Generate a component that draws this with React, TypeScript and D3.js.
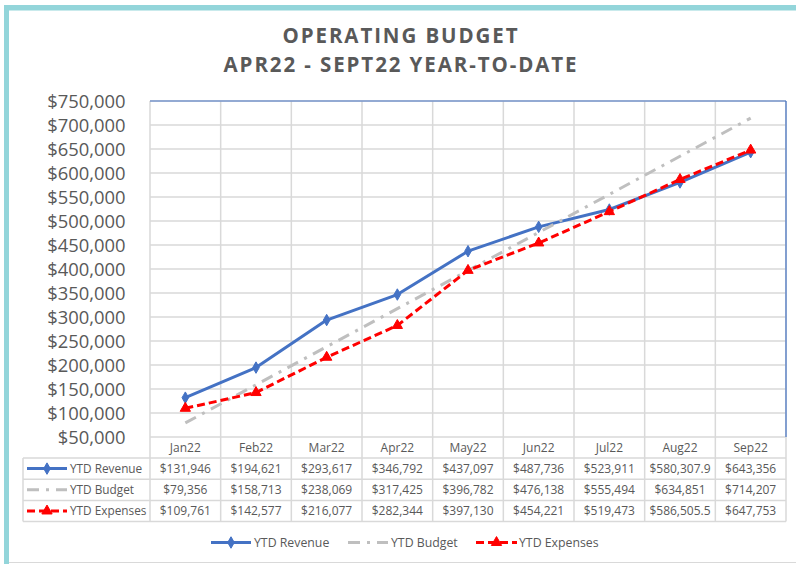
import React from "react";
import * as d3 from "d3";

const categories = ["Jan22", "Feb22", "Mar22", "Apr22", "May22", "Jun22", "Jul22", "Aug22", "Sep22"];
const revenue = [131946, 194621, 293617, 346792, 437097, 487736, 523911, 580307.9, 643356];
const budget = [79356, 158713, 238069, 317425, 396782, 476138, 555494, 634851, 714207];
const expenses = [109761, 142577, 216077, 282344, 397130, 454221, 519473, 586505.5, 647753];
const yTicks = d3.range(50000, 750001, 50000);
const titleLines = ["OPERATING BUDGET", "APR22 - SEPT22 YEAR-TO-DATE"];

const FONT = "'Open Sans', sans-serif";
const TXT = "#595959";
const GRID = "#D9D9D9";

type Series = { name: string; values: number[]; color: string; dash: string; marker: "diamond" | "triangle" | null };
const series: Series[] = [
  { name: "YTD Revenue", values: revenue, color: "#4472C4", dash: "", marker: "diamond" },
  { name: "YTD Budget", values: budget, color: "#BFBFBF", dash: "12,7,3,7", marker: null },
  { name: "YTD Expenses", values: expenses, color: "#FF0000", dash: "8,4", marker: "triangle" },
];

export default function App() {
  const W = 796, H = 564;
  const left = 150, right = 786, top = 101, bottom = 437;
  const x = d3.scaleBand<string>().domain(categories).range([left, right]);
  const y = d3.scaleLinear().domain([50000, 750000]).range([bottom, top]);
  const fmt = d3.format(",");
  const money = (v: number) => "$" + fmt(v);
  const rowTop = 458, rowH = 21.2;
  const tableLeft = 23;
  const tableBottom = rowTop + rowH * 3;
  const cx = (c: string) => (x(c) as number) + x.bandwidth() / 2;

  const line = d3.line<number>().x((_, i) => cx(categories[i])).y((v) => y(v));
  const diamond = d3.symbol().type(d3.symbolDiamond).size(38)();
  const triangle = d3.symbol().type(d3.symbolTriangle).size(46)();

  const marker = (s: Series, px: number, py: number, key: string | number) => {
    if (!s.marker) return null;
    return (
      <path key={key} d={s.marker === "diamond" ? (diamond as string) : (triangle as string)}
        transform={`translate(${px},${py})`} fill={s.color} stroke={s.color} strokeWidth={1} />
    );
  };

  const sample = (s: Series, x0: number, x1: number, yy: number) => (
    <g>
      <line x1={x0} x2={x1} y1={yy} y2={yy} stroke={s.color} strokeWidth={3} strokeDasharray={s.dash || undefined} />
      {marker(s, (x0 + x1) / 2, yy, "m")}
    </g>
  );

  const boundaries = d3.range(categories.length + 1).map((i) => left + i * x.step());
  const legendPos = [
    { x0: 211, x1: 251, tx: 254 },
    { x0: 348, x1: 388, tx: 391 },
    { x0: 476, x1: 517, tx: 519 },
  ];

  return (
    <svg width={W} height={H} style={{ position: "absolute", left: 0, top: 0, background: "#fff" }}>
      {/* frame */}
      <rect x={4} y={5} width={792} height={5.5} fill="#93D5DA" />
      <rect x={4} y={5} width={5} height={559} fill="#93D5DA" />
      <line x1={9} x2={796} y1={562.5} y2={562.5} stroke={GRID} strokeWidth={1} />

      {/* title */}
      {titleLines.map((t, i) => (
        <text key={t} x={401} y={43 + i * 29} textAnchor="middle" fontFamily={FONT} fontWeight={700}
          fontSize={20.5} fill={TXT} letterSpacing={1.9}>{t}</text>
      ))}

      {/* horizontal gridlines */}
      {yTicks.map((t) => (
        <line key={t} x1={left} x2={right} y1={y(t)} y2={y(t)} stroke={GRID} strokeWidth={1.5} />
      ))}
      {/* vertical gridlines through plot + table */}
      {boundaries.map((bx, i) => (
        <line key={i} x1={bx} x2={bx} y1={top} y2={tableBottom} stroke={GRID} strokeWidth={1.5} />
      ))}
      {/* table rows */}
      {[0, 1, 2, 3].map((i) => (
        <line key={i} x1={tableLeft} x2={right} y1={rowTop + i * rowH} y2={rowTop + i * rowH} stroke={GRID} strokeWidth={1.5} />
      ))}
      <line x1={tableLeft} x2={tableLeft} y1={rowTop} y2={tableBottom} stroke={GRID} strokeWidth={1.5} />
      {/* plot border top/right */}
      <line x1={left} x2={right} y1={top} y2={top} stroke="#4472C4" strokeWidth={1.2} />
      <line x1={right} x2={right} y1={top} y2={bottom} stroke="#4472C4" strokeWidth={1.2} />

      {/* y axis labels */}
      {yTicks.map((t) => (
        <text key={t} x={125.5} y={y(t)} dy="0.36em" textAnchor="end" fontFamily={FONT} fontSize={18.4} fill={TXT}>{money(t)}</text>
      ))}

      {/* category labels */}
      {categories.map((c) => (
        <text key={c} x={cx(c)} y={448} dy="0.36em" textAnchor="middle" fontFamily={FONT} fontSize={12} fill={TXT}>{c}</text>
      ))}

      {/* series lines */}
      {series.map((s) => (
        <g key={s.name}>
          <path d={line(s.values) as string} fill="none" stroke={s.color} strokeWidth={3}
            strokeDasharray={s.dash || undefined} strokeLinejoin="round" />
          {s.values.map((v, i) => marker(s, cx(categories[i]), y(v), i))}
        </g>
      ))}

      {/* data table */}
      {series.map((s, r) => {
        const cy = rowTop + rowH * r + rowH / 2;
        return (
          <g key={s.name}>
            {sample(s, 27, 67, cy)}
            <text x={70} y={cy} dy="0.36em" fontFamily={FONT} fontSize={11.8} fill={TXT}>{s.name}</text>
            {s.values.map((v, i) => (
              <text key={i} x={cx(categories[i])} y={cy} dy="0.36em" textAnchor="middle" fontFamily={FONT} fontSize={12} fill={TXT}>{money(v)}</text>
            ))}
          </g>
        );
      })}

      {/* legend */}
      {series.map((s, i) => (
        <g key={s.name}>
          {sample(s, legendPos[i].x0, legendPos[i].x1, 542.5)}
          <text x={legendPos[i].tx} y={542.5} dy="0.36em" fontFamily={FONT} fontSize={12.3} fill={TXT}>{s.name}</text>
        </g>
      ))}
    </svg>
  );
}
